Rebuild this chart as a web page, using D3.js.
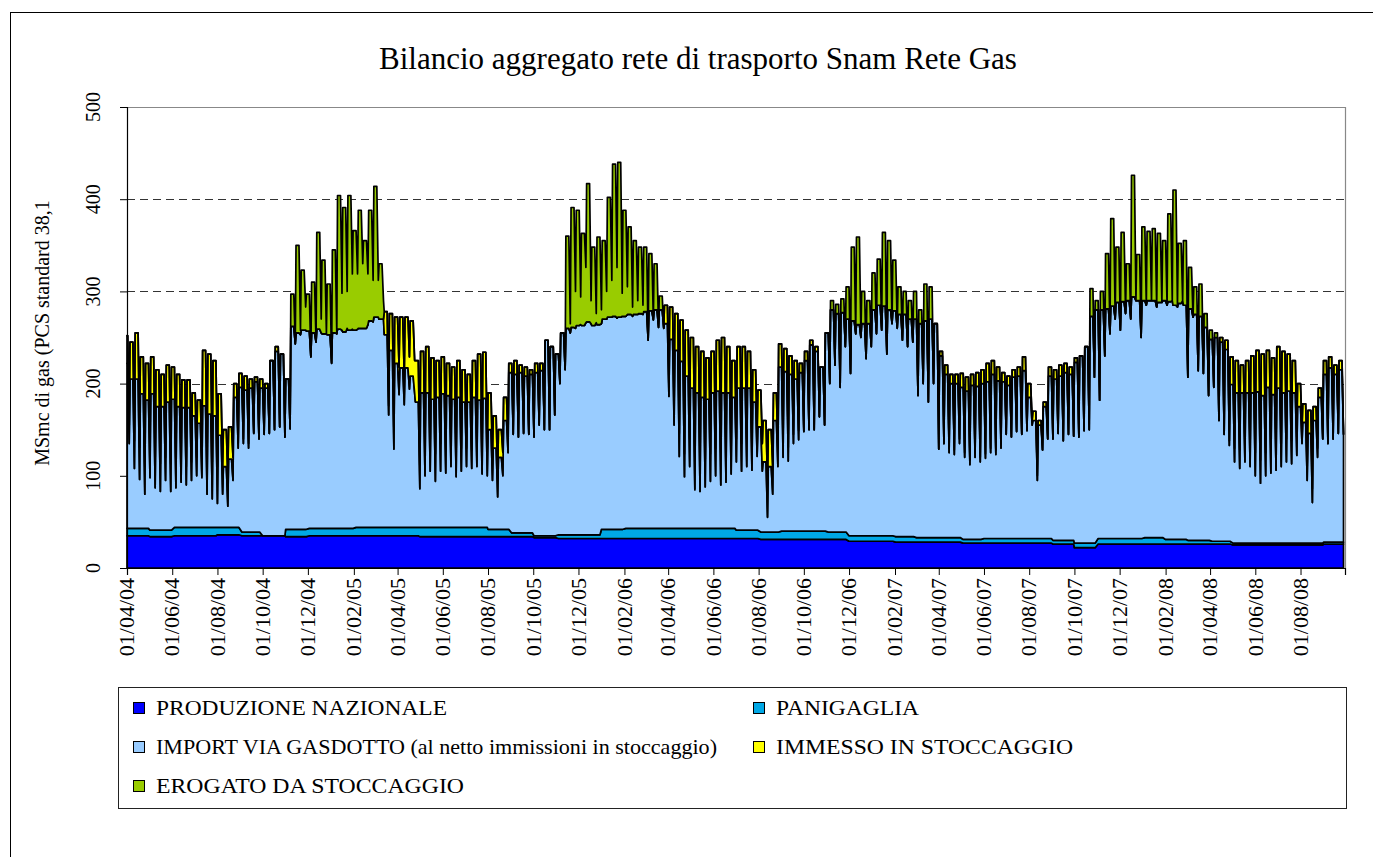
<!DOCTYPE html>
<html><head><meta charset="utf-8">
<script src="https://cdn.jsdelivr.net/npm/d3@7"></script>
<style>body{margin:0;background:#fff;} svg{display:block;}</style>
</head><body>
<svg id="chart" width="1373" height="857"></svg>
<script>
// ---------------- DATA ----------------
const chartTitle = "Bilancio aggregato rete di trasporto Snam Rete Gas";
const yAxisTitle = "MSmc di gas (PCS standard 38,1";
const seriesNames = ["PRODUZIONE NAZIONALE", "PANIGAGLIA",
  "IMPORT VIA GASDOTTO (al netto immissioni in stoccaggio)", "IMMESSO IN STOCCAGGIO",
  "EROGATO DA STOCCAGGIO"];
const yTickValues = [0, 100, 200, 300, 400, 500];
const xTickLabels = ["01/04/04","01/06/04","01/08/04","01/10/04","01/12/04","01/02/05","01/04/05",
  "01/06/05","01/08/05","01/10/05","01/12/05","01/02/06","01/04/06","01/06/06","01/08/06","01/10/06",
  "01/12/06","01/02/07","01/04/07","01/06/07","01/08/07","01/10/07","01/12/07","01/02/08","01/04/08",
  "01/06/08","01/08/08"];
const firstDay = "2004-04-01";
const lastDay = "2008-09-30";

// monthly values, Apr 2004 .. Sep 2008 (MSmc/day)
const produzione = [
  35,34,35,35,36,35,35,34,35,
  35,35,35,35,34,34,34,34,34,33,32,32,
  32,32,32,32,32,32,32,31,31,31,31,29,
  29,28,28,28,27,27,27,27,26,22,26,26,
  26,26,26,26,25,25,25,25,26];
const panigaglia = [
  8,7,9,9,8,4,0,8,8,
  8,9,9,9,10,10,10,8,4,2,4,4,
  10,11,11,11,11,11,9,8,9,9,8,6,
  6,6,5,5,4,5,5,5,4,5,6,6,
  7,5,4,3,2,2,2,2,2];

// weekly readings (week k ends on Sunday 2004-04-04 + 7k days): weekday total and weekend total
const totalWeekday = [
  252,245,255,229,222, 229,215,210,220, 218,210,204,204, 190,182,236,232,225, 189,150,153,200,
  211,208,205,207, 205,200,225,240,232, 205,297,350,323, 297,310,364,334,308,
  345,404,391,404, 366,388,355,388, 414,330,278,276, 272,272,272,268,225, 235,240,228,225,
  229,222,218,225, 215,210,225,232,234, 190,165,150,185, 222,225,220,218, 215,222,222,247,240,
  232,255,360,391, 388,363,417,348,359,
  355,402,438,440, 388,370,355,348, 348,341,330,295, 285,283,276,269,258, 250,240,235,228,
  235,247,250,240, 225,240,240,235,215, 193,160,150,190, 243,238,230,225, 222,235,247,240,218,
  255,290,286,292, 305,348,359,300,290,
  320,335,364,355, 334,305,300,290, 300,280,308,305, 265,235,220,210,210, 211,207,210,212,
  215,222,225,218, 212,208,215,218,229, 200,170,160,180, 218,215,220,222,218, 228,230,240,303,
  290,300,341,379, 348,364,330,426,340,
  370,365,368,363, 355,384,410,352, 355,326,305,308,276, 258,255,250,247, 229,225,220,225,
  230,236,232,236,228, 240,235,232,225, 200,178,171,175,195, 225,229,220,225];
const totalWeekend = [
  155,138,131,110,128, 117,113,120,113, 112,118,110,115, 120,118,115,115,110, 110,97,120,135,
  140,135,146,140, 145,146,150,153,142, 151,243,258,283, 229,245,270,254,222,
  254,298,300,319, 319,330,319,312, 312,290,176,149, 218,207,229,225,111, 130,140,124,135,
  128,135,124,130, 130,128,135,132,130, 120,97,125,140, 145,142,146,145, 142,155,150,150,166,
  200,215,265,300, 294,326,290,276,280,
  300,312,326,298, 305,283,290,285, 247,269,261,260, 196,175,146,124,140, 120,113,118,124,
  130,125,128,132, 140,135,140,131,146, 135,90,110,130, 135,131,145,149, 148,150,150,164,155,
  200,220,196,240, 211,254,250,227,240,
  254,258,232,265, 260,247,240,245, 187,200,180,200, 129,135,130,128,140, 125,117,125,120,
  124,130,128,135, 145,142,148,145,149, 160,100,128,140, 140,146,138,145,143, 142,149,150,207,
  182,230,254,270, 258,276,270,290,250,
  285,290,283,288, 285,290,283,290, 207,272,214,211,187, 196,160,145,138, 130,128,135,130,
  125,117,125,128,131, 135,140,138,142, 150,110,86,130,140, 135,140,146,145];
// storage flow: positive = erogato (withdrawal), negative = immesso (injection)
const storageWeekday = [
  -30,-40,-50,-40,-40, -40,-40,-35,-40, -35,-35,-30,-30, -25,-25,-60,-65,-60, -45,-40,-35,-15,
  -15,-15,-10,-5, -10,-5,0,-5,0, 0,35,95,65, 40,55,105,80,55,
  90,145,135,146, 108,128,95,120, 142,60,-25,-40, -50,-55,-55,-60,-45, -45,-50,-45,-40,
  -40,-35,-35,-40, -35,-30,-40,-50,-50, -40,-35,-30,-25, -10,-15,-8,-10, -5,-10,-8,0,0,
  0,0,100,130, 125,100,150,85,95,
  85,130,165,168, 115,95,80,72, 70,62,50,15, -20,-35,-40,-45,-50, -55,-50,-50,-45,
  -45,-55,-60,-50, -40,-45,-45,-40,-35, -40,-45,-40,-30, -25,-25,-20,-20, -10,-10,-5,-5,0,
  0,10,10,15, 35,80,95,35,25,
  40,50,80,75, 55,30,25,20, 30,15,40,35, 0,-5,-10,-10,-10, -15,-15,-12,-15,
  -15,-20,-15,-15, -10,-10,-8,-10,-15, -15,-10,-5,-5, -10,-10,-12,-10,-8, -5,0,0,30,
  10,20,60,95, 60,75,40,132,50,
  80,75,78,75, 65,95,125,65, 70,45,30,35,15, 10,5,-5,-10, -30,-35,-30,-35,
  -40,-45,-45,-40,-40, -45,-45,-40,-35, -25,-20,-25,-15,-10, -15,-12,-10,-10];
const storageWeekend = [
  -20,-30,-35,-30,-30, -30,-30,-25,-30, -25,-25,-20,-20, -20,-20,-35,-40,-40, -30,-30,-25,-5,
  -5,-5,0,0, 0,0,0,0,0, 0,0,5,25, 0,0,15,0,0,
  0,40,40,60, 60,70,55,45, 40,20,-10,-20, -30,-30,-35,-35,-25, -30,-35,-30,-30,
  -25,-25,-25,-25, -20,-20,-25,-30,-30, -25,-20,-25,-15, 0,0,0,0, 0,0,0,0,0,
  0,0,10,40, 30,60,25,10,15,
  30,40,55,25, 30,10,15,10, 0,0,0,0, -10,-20,-25,-25,-30, -35,-30,-30,-30,
  -30,-35,-35,-30, -25,-30,-30,-25,-25, -30,-35,-30,-20, -15,-15,-10,-10, 0,0,0,0,0,
  0,0,0,0, 0,0,0,0,0,
  0,0,0,0, 0,0,0,0, 0,0,0,0, 0,0,-5,-5,-5, -5,-5,-5,-5,
  -5,-5,-5,-5, 0,0,0,0,0, -5,-5,0,0, 0,0,0,0,0, 0,0,0,0,
  0,0,0,0, 0,0,0,0,0,
  0,0,0,0, 0,0,0,0, 0,0,0,0,0, 0,0,0,-5, -15,-20,-20,-20,
  -25,-25,-25,-25,-25, -25,-25,-25,-20, -15,-15,-15,-10,0, 0,0,0,0];

// ---------------- STYLE / LAYOUT ----------------
const colors = ["#0000FF", "#00A8E6", "#99CCFF", "#FFFF00", "#99CC00"];
const plot = {left: 127, right: 1345, top: 107, bottom: 568};
const serif = "'Liberation Serif','Times New Roman',serif";
const legendTextWidths = [291, 143, 561, 297, 308];

const svg = d3.select("#chart");
svg.append("rect").attr("x", 10.5).attr("y", 12.5).attr("width", 1500).attr("height", 1000)
  .attr("fill", "#fff").attr("stroke", "#000").attr("stroke-width", 1);

const parseISO = d3.timeParse("%Y-%m-%d");
const parseTick = d3.timeParse("%d/%m/%y");
const start = parseISO(firstDay);
const x = d3.scaleTime().domain([start, parseISO(lastDay)]).range([plot.left, plot.right]);
const y = d3.scaleLinear().domain([0, 500]).range([plot.bottom, plot.top]);

// build rows: each week = Mon..Fri plateau (weekday reading) then Sunday dip (weekend reading)
const rows = [];
totalWeekday.forEach((t, i) => {
  const pts = [[t, storageWeekday[i], 7 * i - 3], [t, storageWeekday[i], 7 * i + 1],
               [totalWeekend[i], storageWeekend[i], 7 * i + 3]];
  pts.forEach(([tot, sto, day]) => {
    const date = d3.timeDay.offset(start, Math.max(0, day));
    const mi = (date.getFullYear() - 2004) * 12 + date.getMonth() - 3;
    const prod = produzione[mi], pan = panigaglia[mi];
    const imm = Math.max(-sto, 0), ero = Math.max(sto, 0);
    rows.push({date, prod, pan, imp: tot - prod - pan - imm - ero, imm, ero});
  });
});
const keys = ["prod", "pan", "imp", "imm", "ero"];
const stacked = d3.stack().keys(keys)(rows);

// gridlines
svg.append("g").selectAll("line").data(yTickValues.filter(v => v > 0 && v < 500)).join("line")
  .attr("x1", plot.left).attr("x2", plot.right)
  .attr("y1", d => Math.round(y(d)) + 0.5).attr("y2", d => Math.round(y(d)) + 0.5)
  .attr("stroke", "#333").attr("stroke-width", 1).attr("stroke-dasharray", "8,5");

// plot frame (top/right gray)
svg.append("path")
  .attr("d", `M${plot.left},${plot.top + 0.5}H${plot.right + 0.5}V${plot.bottom}`)
  .attr("fill", "none").attr("stroke", "#888").attr("stroke-width", 1.2);

// areas
const area = d3.area().x(d => x(d.data.date)).y0(d => y(d[0])).y1(d => y(d[1]));
svg.append("g").selectAll("path").data(stacked).join("path")
  .attr("d", area).attr("fill", (d, i) => colors[i])
  .attr("stroke", "#000").attr("stroke-width", 1.7).attr("stroke-linejoin", "round");

// axes
const yAxis = d3.axisLeft(y).tickValues(yTickValues).tickSize(7).tickFormat("");
const gy = svg.append("g").attr("transform", `translate(${plot.left},0)`).call(yAxis);
gy.select(".domain").attr("stroke", "#000").attr("stroke-width", 1.2);
gy.selectAll(".tick line").attr("stroke", "#000");
svg.append("g").selectAll("text").data(yTickValues).join("text")
  .attr("transform", d => `translate(100,${y(d)}) rotate(-90)`)
  .attr("text-anchor", "middle").attr("font-family", serif).attr("font-size", 20)
  .text(d => d);

const tickDates = xTickLabels.map(parseTick);
const xAxis = d3.axisBottom(x).tickValues(tickDates).tickSize(7).tickFormat("");
const gx = svg.append("g").attr("transform", `translate(0,${plot.bottom})`).call(xAxis);
gx.select(".domain").attr("stroke", "#000").attr("stroke-width", 1.2);
gx.selectAll(".tick line").attr("stroke", "#000");
svg.append("g").selectAll("text").data(xTickLabels).join("text")
  .attr("transform", d => `translate(${x(parseTick(d))},578) rotate(-90)`)
  .attr("text-anchor", "end").attr("dy", "0.33em")
  .attr("font-family", serif).attr("font-size", 22)
  .text(d => d);

// titles
svg.append("text").attr("x", 698).attr("y", 69).attr("text-anchor", "middle")
  .attr("font-family", serif).attr("font-size", 31).text(chartTitle);
svg.append("text").attr("transform", "translate(49,333) rotate(-90)")
  .attr("text-anchor", "middle").attr("font-family", serif).attr("font-size", 20).text(yAxisTitle);

// legend
svg.append("rect").attr("x", 118.5).attr("y", 687.5).attr("width", 1228).attr("height", 121)
  .attr("fill", "#fff").attr("stroke", "#222").attr("stroke-width", 1);
const legPos = [[133, 715], [753, 715], [133, 754], [753, 754], [133, 793]];
const leg = svg.append("g").selectAll("g").data(seriesNames).join("g")
  .attr("transform", (d, i) => `translate(${legPos[i][0]},${legPos[i][1]})`);
leg.append("rect").attr("x", 0.5).attr("y", -12.5).attr("width", 11).attr("height", 11)
  .attr("fill", (d, i) => colors[i]).attr("stroke", "#000").attr("stroke-width", 1);
leg.append("text").attr("x", 23).attr("y", 0).attr("font-family", serif).attr("font-size", 22)
  .attr("textLength", (d, i) => legendTextWidths[i]).attr("lengthAdjust", "spacingAndGlyphs")
  .text(d => d);
</script>
</body></html>
